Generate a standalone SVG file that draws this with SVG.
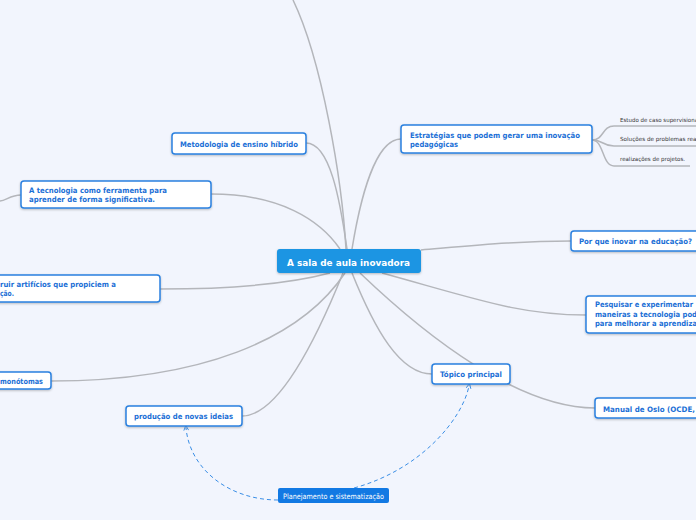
<svg xmlns="http://www.w3.org/2000/svg" width="696" height="520" viewBox="0 0 696 520">
<defs>
<style>
.bg{fill:#f2f5fd}
.c{fill:none;stroke:#b4b6bb;stroke-width:1.5}
.d{fill:none;stroke:#3a8ee6;stroke-width:1;stroke-dasharray:4 3}
.n{fill:#ffffff;stroke:#2a80df;stroke-width:1.5}
.t{font-family:"DejaVu Sans",Verdana,sans-serif;font-weight:bold;font-size:7.5px;fill:#1b6fd6}
.s{font-family:"DejaVu Sans",Verdana,sans-serif;font-size:5.6px;fill:#333}
.w{font-family:"DejaVu Sans",Verdana,sans-serif;font-size:7.5px;fill:#ffffff}
</style>
<filter id="sh" x="-10%" y="-20%" width="120%" height="150%"><feDropShadow dx="0" dy="1" stdDeviation="1" flood-color="#000" flood-opacity="0.25"/></filter>
<marker id="ar" viewBox="0 0 10 10" refX="5" refY="5" markerWidth="6" markerHeight="6" orient="auto-start-reverse"><path d="M1,1 L9,5 L1,9" fill="none" stroke="#3a8ee6" stroke-width="1.5"/></marker>
</defs>
<rect class="bg" x="0" y="0" width="696" height="520"/>
<g id="connectors">
<path class="c" d="M346,249 C342,180 322,60 293,0"/>
<path class="c" d="M306,143 C330,143 340,200 347,249"/>
<path class="c" d="M211,194 C280,194 320,220 340,249"/>
<path class="c" d="M21,195 C10,195 6,201 0,201"/>
<path class="c" d="M160,289 C250,289 300,281 330,273"/>
<path class="c" d="M51,381 C200,381 300,340 345,273"/>
<path class="c" d="M242,416 C280,416 320,330 343,273"/>
<path class="c" d="M352,273 C375,330 400,374 432,374"/>
<path class="c" d="M360,273 C430,340 520,408 595,408"/>
<path class="c" d="M382,273 C480,300 520,315 586,315"/>
<path class="c" d="M421,250 C480,245 520,241 571,241"/>
<path class="c" d="M401,139 C375,139 360,200 352,249"/>
<path class="c" d="M592,140 C604,140 602,126 614,126 L696,126" stroke-width="1"/>
<path class="c" d="M592,140 C604,140 602,146 614,146 L696,146" stroke-width="1"/>
<path class="c" d="M592,140 C604,140 602,166 614,166 L690,166" stroke-width="1"/>
<path class="d" d="M278,500 C230,500 190,470 186,428" marker-end="url(#ar)"/>
<path class="d" d="M354,488 C420,470 462,420 469,386" marker-end="url(#ar)"/>
</g>
<g id="central">
<rect x="277" y="249" width="144" height="24" rx="3" fill="#1b95e3" filter="url(#sh)"/>
<text x="287" y="265.5" font-family="DejaVu Sans,Verdana,sans-serif" font-weight="bold" font-size="9.5" fill="#fff" textLength="123" lengthAdjust="spacingAndGlyphs">A sala de aula inovadora</text>
</g>
<g id="metodologia">
<rect class="n" x="172" y="133" width="134" height="21" rx="3" filter="url(#sh)"/>
<text class="t" x="180" y="146.5" textLength="118" lengthAdjust="spacingAndGlyphs">Metodologia de ensino híbrido</text>
</g>
<g id="tecnologia">
<rect class="n" x="21" y="181" width="190" height="27" rx="3" filter="url(#sh)"/>
<text class="t" x="29" y="192.5" textLength="138" lengthAdjust="spacingAndGlyphs">A tecnologia como ferramenta para</text>
<text class="t" x="29" y="201.5" textLength="126" lengthAdjust="spacingAndGlyphs">aprender de forma significativa.</text>
</g>
<g id="artificios">
<rect class="n" x="-10" y="275" width="170" height="27" rx="3" filter="url(#sh)"/>
<text class="t" x="0" y="287" textLength="116" lengthAdjust="spacingAndGlyphs">ruir artifícios que propiciem a</text>
<text class="t" x="0" y="296" textLength="14" lengthAdjust="spacingAndGlyphs">ção.</text>
</g>
<g id="monotomas">
<rect class="n" x="-10" y="372" width="61" height="17" rx="3" filter="url(#sh)"/>
<text class="t" x="0" y="383.5" textLength="43" lengthAdjust="spacingAndGlyphs">monótomas</text>
</g>
<g id="producao">
<rect class="n" x="126" y="406" width="116" height="20" rx="3" filter="url(#sh)"/>
<text class="t" x="134" y="419" textLength="99" lengthAdjust="spacingAndGlyphs">produção de novas ideias</text>
</g>
<g id="topico">
<rect class="n" x="432" y="364" width="78" height="20" rx="3" filter="url(#sh)"/>
<text class="t" x="440" y="377" textLength="62" lengthAdjust="spacingAndGlyphs">Tópico principal</text>
</g>
<g id="oslo">
<rect class="n" x="595" y="398" width="110" height="20" rx="3" filter="url(#sh)"/>
<text class="t" x="603" y="411.5" textLength="92" lengthAdjust="spacingAndGlyphs">Manual de Oslo (OCDE,</text>
</g>
<g id="pesquisar">
<rect class="n" x="586" y="296" width="120" height="37" rx="3" filter="url(#sh)"/>
<text class="t" x="595" y="307" textLength="98" lengthAdjust="spacingAndGlyphs">Pesquisar e experimentar</text>
<text class="t" x="595" y="316.5" textLength="102" lengthAdjust="spacingAndGlyphs">maneiras a tecnologia pod</text>
<text class="t" x="595" y="326" textLength="102" lengthAdjust="spacingAndGlyphs">para melhorar a aprendiza</text>
</g>
<g id="porque">
<rect class="n" x="571" y="231" width="130" height="20" rx="3" filter="url(#sh)"/>
<text class="t" x="579" y="244" textLength="113" lengthAdjust="spacingAndGlyphs">Por que inovar na educação?</text>
</g>
<g id="estrategias">
<rect class="n" x="401" y="125" width="191" height="28" rx="3" filter="url(#sh)"/>
<text class="t" x="410" y="137.5" textLength="170" lengthAdjust="spacingAndGlyphs">Estratégias que podem gerar uma inovação</text>
<text class="t" x="410" y="146.5" textLength="48" lengthAdjust="spacingAndGlyphs">pedagógicas</text>
</g>
<g id="estudo">
<text class="s" x="620" y="121.5" textLength="78" lengthAdjust="spacingAndGlyphs">Estudo de caso supervisiona</text>
</g>
<g id="solucoes">
<text class="s" x="620" y="141" textLength="78" lengthAdjust="spacingAndGlyphs">Soluções de problemas real</text>
</g>
<g id="realizacoes">
<text class="s" x="620" y="160.5" textLength="65" lengthAdjust="spacingAndGlyphs">realizações de projetos.</text>
</g>
<g id="planejamento">
<rect x="278" y="488" width="111" height="15" rx="2" fill="#1279e3"/>
<text class="w" x="283" y="498.5" textLength="101" lengthAdjust="spacingAndGlyphs">Planejamento e sistematização</text>
</g>
</svg>
